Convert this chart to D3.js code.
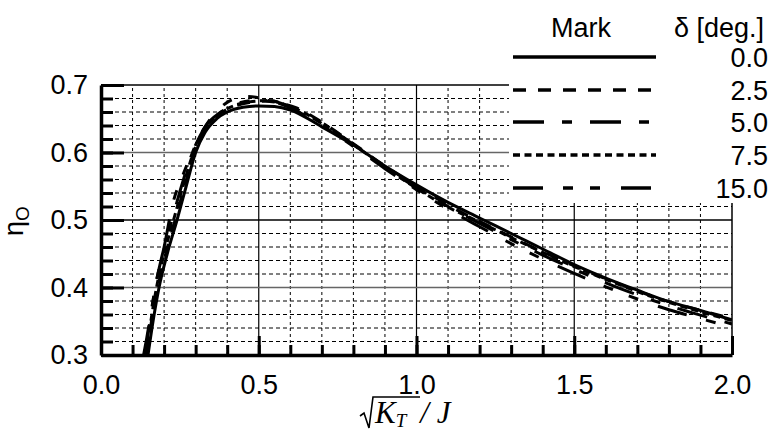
<!DOCTYPE html>
<html>
<head>
<meta charset="utf-8">
<script src="https://cdn.jsdelivr.net/npm/d3@7"></script>
<style>
  html, body { margin: 0; padding: 0; background: #fff; }
  svg { display: block; }
  text { font-family: "Liberation Sans", Arial, sans-serif; fill: #000; }
</style>
</head>
<body>
<svg id="chart" width="772" height="432"></svg>
<script>
// ---- Data ----
const deltaLabels = ["0.0", "2.5", "5.0", "7.5", "15.0"];

const kt00  = [0.149,0.165,0.184,0.21,0.241,0.27,0.30,0.33,0.367,0.40,0.45,0.50,0.55,0.60,0.70,0.80,0.90,1.0,1.1,1.2,1.3,1.4,1.5,1.6,1.7,1.8,1.9,2.0];
const eta00 = [0.30,0.35,0.40,0.45,0.50,0.55,0.60,0.63,0.65,0.66,0.667,0.669,0.668,0.663,0.638,0.611,0.580,0.552,0.526,0.503,0.480,0.457,0.434,0.414,0.396,0.379,0.366,0.352];

const kt25  = [0.145,0.16,0.18,0.205,0.235,0.265,0.295,0.33,0.37,0.42,0.47,0.52,0.57,0.62,0.70,0.80,0.90,1.0,1.1,1.2,1.3,1.4,1.5,1.6,1.7,1.8,1.9,2.0];
const eta25 = [0.30,0.35,0.40,0.45,0.50,0.55,0.60,0.635,0.655,0.668,0.674,0.676,0.673,0.666,0.645,0.613,0.580,0.550,0.522,0.498,0.475,0.453,0.432,0.413,0.395,0.379,0.366,0.354];

const kt50  = [0.14,0.155,0.172,0.195,0.225,0.255,0.29,0.33,0.38,0.43,0.48,0.53,0.60,0.70,0.80,0.90,1.0,1.1,1.2,1.3,1.4,1.5,1.6,1.7,1.8,1.9,2.0];
const eta50 = [0.30,0.35,0.40,0.45,0.50,0.55,0.60,0.638,0.66,0.672,0.677,0.677,0.668,0.643,0.612,0.578,0.548,0.520,0.495,0.471,0.448,0.427,0.407,0.389,0.373,0.359,0.346];

const kt75  = [0.143,0.158,0.176,0.20,0.23,0.26,0.293,0.33,0.37,0.42,0.47,0.53,0.60,0.70,0.80,0.90,1.0,1.1,1.2,1.3,1.4,1.5,1.6,1.7,1.8,1.9,2.0];
const eta75 = [0.30,0.35,0.40,0.45,0.50,0.55,0.60,0.636,0.656,0.669,0.675,0.677,0.668,0.644,0.612,0.578,0.547,0.519,0.497,0.474,0.452,0.431,0.412,0.394,0.378,0.364,0.351];

const kt150  = [0.135,0.145,0.16,0.176,0.20,0.228,0.26,0.287,0.33,0.377,0.42,0.462,0.52,0.60,0.70,0.80,0.90,1.0,1.1,1.2,1.3,1.4,1.5,1.6,1.7,1.8,1.9,2.0];
const eta150 = [0.30,0.325,0.367,0.41,0.46,0.525,0.567,0.598,0.638,0.666,0.679,0.683,0.679,0.666,0.640,0.609,0.576,0.545,0.516,0.490,0.465,0.442,0.421,0.401,0.383,0.367,0.354,0.341];

const xMajorTicks = [0.0, 0.5, 1.0, 1.5, 2.0];
const xTickLabels = ["0.0", "0.5", "1.0", "1.5", "2.0"];
const yMajorTicks = [0.3, 0.4, 0.5, 0.6, 0.7];
const yTickLabels = ["0.3", "0.4", "0.5", "0.6", "0.7"];

// ---- Setup ----
const svg = d3.select("#chart");
const x = d3.scaleLinear().domain([0, 2]).range([101, 732]);
const y = d3.scaleLinear().domain([0.3, 0.7]).range([355, 85]);

svg.append("rect").attr("width", 772).attr("height", 432).attr("fill", "#fff");

const xMinor = d3.range(1, 20).map(i => i / 10).filter(v => Math.abs(v * 2 - Math.round(v * 2)) > 1e-6);
const yMinor = d3.range(16, 35).map(i => i / 50).filter(v => Math.abs(v * 10 - Math.round(v * 10)) > 1e-6);
const xAllTicks = d3.range(0, 21).map(i => i / 10);
const yAllTicks = d3.range(15, 36).map(i => i / 50);

const grid = svg.append("g");
// minor dashed grid
grid.selectAll(".vx").data(xMinor).join("line")
  .attr("x1", d => x(d)).attr("x2", d => x(d)).attr("y1", y(0.3)).attr("y2", y(0.7))
  .attr("stroke", "#000").attr("stroke-width", 1).attr("stroke-dasharray", "3,3");
grid.selectAll(".hy").data(yMinor).join("line")
  .attr("y1", d => y(d)).attr("y2", d => y(d)).attr("x1", x(0)).attr("x2", x(2))
  .attr("stroke", "#000").attr("stroke-width", 1).attr("stroke-dasharray", "4,3");
// major grid
grid.selectAll(".mx").data([0.5, 1.0, 1.5]).join("line")
  .attr("x1", d => x(d)).attr("x2", d => x(d)).attr("y1", y(0.3)).attr("y2", y(0.7))
  .attr("stroke", "#000").attr("stroke-width", 1.2);
grid.selectAll(".my").data([0.4, 0.5, 0.6]).join("line")
  .attr("y1", d => y(d)).attr("y2", d => y(d)).attr("x1", x(0)).attr("x2", x(2))
  .attr("stroke", d => d === 0.5 ? "#000" : "#666").attr("stroke-width", 1.5);
// top and right border
grid.append("line").attr("x1", x(0)).attr("x2", x(2)).attr("y1", y(0.7)).attr("y2", y(0.7))
  .attr("stroke", "#000").attr("stroke-width", 1.5);
grid.append("line").attr("x1", x(2)).attr("x2", x(2)).attr("y1", y(0.3)).attr("y2", y(0.7))
  .attr("stroke", "#000").attr("stroke-width", 1.5);

// ---- Curves ----
const series = [
  { kt: kt00,  eta: eta00,  dash: null },
  { kt: kt25,  eta: eta25,  dash: "13,12" },
  { kt: kt50,  eta: eta50,  dash: "31,18,10,18" },
  { kt: kt75,  eta: eta75,  dash: "7,4.5" },
  { kt: kt150, eta: eta150, dash: "30,20,10,17,10,21" }
];

svg.append("clipPath").attr("id", "clip").append("rect")
  .attr("x", x(0)).attr("y", y(0.7)).attr("width", x(2) - x(0)).attr("height", y(0.3) - y(0.7));

const line = d3.line().x(d => x(d[0])).y(d => y(d[1])).curve(d3.curveMonotoneX);
const curves = svg.append("g").attr("clip-path", "url(#clip)");
series.slice().reverse().forEach(s => {
  curves.append("path")
    .datum(s.kt.map((k, i) => [k, s.eta[i]]))
    .attr("d", line)
    .attr("fill", "none").attr("stroke", "#000").attr("stroke-width", 3)
    .attr("stroke-dasharray", s.dash);
});

// ---- Axes (inside ticks) ----
function styleAxis(g) {
  g.selectAll(".tick line").attr("stroke", "#000").attr("stroke-width", 3);
  g.selectAll("text").style("font-family", '"Liberation Sans", Arial, sans-serif').style("font-size", "27px").attr("fill", "#000");
}
const yMinorAxis = svg.append("g").attr("transform", `translate(${x(0)},0)`)
  .call(d3.axisLeft(y).tickValues(yAllTicks).tickSize(-12).tickFormat(""));
yMinorAxis.select(".domain").remove();
styleAxis(yMinorAxis);
const yMajorAxis = svg.append("g").attr("transform", `translate(${x(0)},0)`)
  .call(d3.axisLeft(y).tickValues(yMajorTicks).tickSizeInner(-23).tickSizeOuter(0).tickPadding(13)
        .tickFormat((d, i) => yTickLabels[i]));
yMajorAxis.select(".domain").attr("stroke", "#000").attr("stroke-width", 3.5);
styleAxis(yMajorAxis);

const xMinorAxis = svg.append("g").attr("transform", `translate(0,${y(0.3)})`)
  .call(d3.axisBottom(x).tickValues(xAllTicks).tickSize(-10).tickFormat(""));
xMinorAxis.select(".domain").remove();
styleAxis(xMinorAxis);
const xMajorAxis = svg.append("g").attr("transform", `translate(0,${y(0.3)})`)
  .call(d3.axisBottom(x).tickValues(xMajorTicks).tickSizeInner(-19).tickSizeOuter(0).tickPadding(20)
        .tickFormat((d, i) => xTickLabels[i]));
xMajorAxis.select(".domain").attr("stroke", "#000").attr("stroke-width", 3.5);
styleAxis(xMajorAxis);

// ---- Axis titles ----
const yt = svg.append("text").attr("transform", "translate(23,221) rotate(-90)")
  .attr("text-anchor", "middle").style("font-size", "27px");
yt.append("tspan").text("η");
yt.append("tspan").attr("dy", 6).style("font-size", "19px").text("O");

// sqrt(K_T)/J
svg.append("path").attr("d", "M360,416 L364,413 L369,428 L373,397 L420,397")
  .attr("fill", "none").attr("stroke", "#000").attr("stroke-width", 1.6);
const xt = svg.append("text").attr("x", 375).attr("y", 423)
  .style("font-family", '"Liberation Serif", "Times New Roman", serif').style("font-style", "italic").style("font-size", "31px");
xt.append("tspan").text("K");
xt.append("tspan").attr("dy", 4).style("font-size", "19px").text("T");
xt.append("tspan").attr("dy", -4).attr("dx", 14).text("/ J");

// ---- Legend ----
const legend = svg.append("g");
legend.append("rect").attr("x", 509).attr("y", 0).attr("width", 263).attr("height", 203).attr("fill", "#fff");
legend.append("text").attr("x", 581).attr("y", 37).attr("text-anchor", "middle").style("font-size", "27px").text("Mark");
legend.append("text").attr("x", 764).attr("y", 37).attr("text-anchor", "end").style("font-size", "27px").text("δ [deg.]");
const rowsY = [57, 90, 122, 155, 188];
series.forEach((s, i) => {
  legend.append("line").attr("x1", 513).attr("x2", 656).attr("y1", rowsY[i]).attr("y2", rowsY[i])
    .attr("stroke", "#000").attr("stroke-width", 3.5).attr("stroke-dasharray", s.dash);
  legend.append("text").attr("x", 768).attr("y", rowsY[i] + 10).attr("text-anchor", "end")
    .style("font-size", "27px").text(deltaLabels[i]);
});
</script>
</body>
</html>
